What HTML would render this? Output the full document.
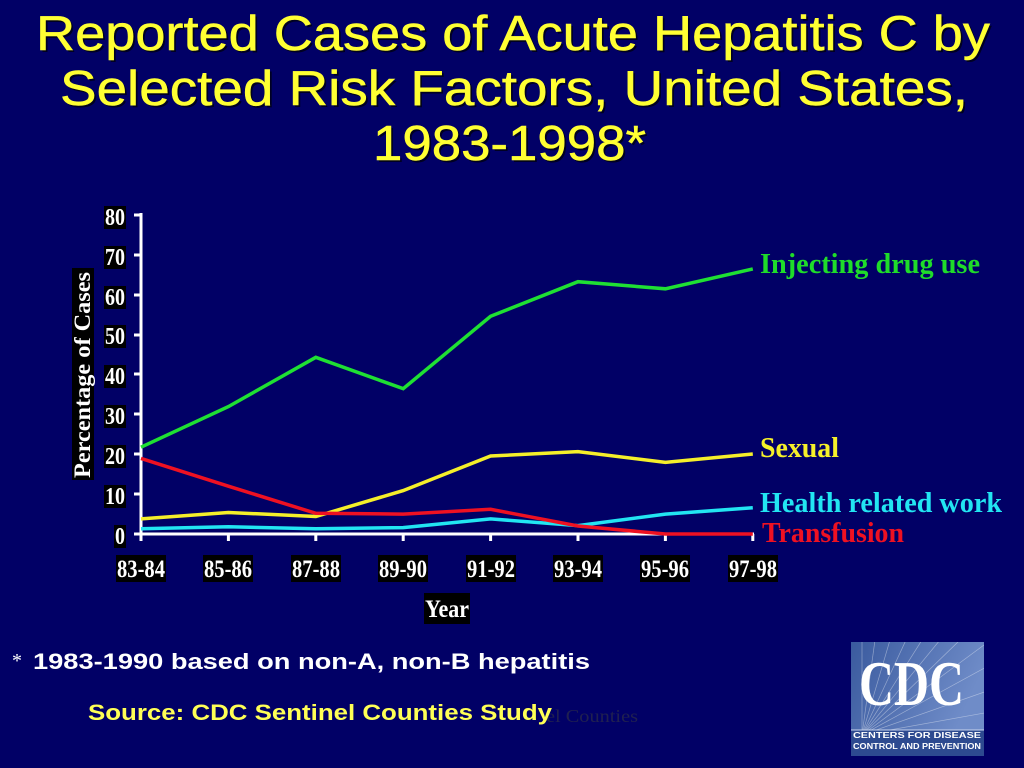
<!DOCTYPE html>
<html>
<head>
<meta charset="utf-8">
<style>
html,body{margin:0;padding:0;background:#010066;}
svg{display:block;}
</style>
</head>
<body>
<svg width="1024" height="768" viewBox="0 0 1024 768" xmlns="http://www.w3.org/2000/svg">
<defs>
<linearGradient id="cdcg" x1="0" y1="0" x2="1" y2="0.3">
<stop offset="0" stop-color="#3a5a9e"/>
<stop offset="1" stop-color="#6f8cc8"/>
</linearGradient>
<clipPath id="cdcclip"><rect x="851" y="642" width="133" height="88"/></clipPath>
</defs>
<rect x="0" y="0" width="1024" height="768" fill="#010066"/>

<!-- Title -->
<g font-family="Liberation Sans, sans-serif" font-size="49" fill="#000022">
<text x="38" y="52" textLength="954" lengthAdjust="spacingAndGlyphs">Reported Cases of Acute Hepatitis C by</text>
<text x="62" y="107" textLength="908" lengthAdjust="spacingAndGlyphs">Selected Risk Factors, United States,</text>
<text x="375" y="162" textLength="273" lengthAdjust="spacingAndGlyphs">1983-1998*</text>
</g>
<g font-family="Liberation Sans, sans-serif" font-size="49" fill="#ffff33" stroke="#ffff33" stroke-width="0.5">
<text x="36" y="50" textLength="954" lengthAdjust="spacingAndGlyphs">Reported Cases of Acute Hepatitis C by</text>
<text x="60" y="105" textLength="908" lengthAdjust="spacingAndGlyphs">Selected Risk Factors, United States,</text>
<text x="373" y="160" textLength="273" lengthAdjust="spacingAndGlyphs">1983-1998*</text>
</g>

<!-- Y axis label -->
<rect x="72" y="268" width="22" height="212" fill="#000"/>
<text transform="translate(90,478) rotate(-90)" font-family="Liberation Serif, serif" font-weight="bold" font-size="23" fill="#fff" textLength="206" lengthAdjust="spacingAndGlyphs">Percentage of Cases</text>

<!-- Y tick labels -->
<g font-family="Liberation Serif, serif" font-weight="bold" font-size="24" fill="#fff">
<rect x="104" y="206" width="22" height="23" fill="#000"/><text x="105" y="225" textLength="20" lengthAdjust="spacingAndGlyphs">80</text>
<rect x="104" y="246" width="22" height="23" fill="#000"/><text x="105" y="265" textLength="20" lengthAdjust="spacingAndGlyphs">70</text>
<rect x="104" y="286" width="22" height="23" fill="#000"/><text x="105" y="305" textLength="20" lengthAdjust="spacingAndGlyphs">60</text>
<rect x="104" y="325" width="22" height="23" fill="#000"/><text x="105" y="344" textLength="20" lengthAdjust="spacingAndGlyphs">50</text>
<rect x="104" y="365" width="22" height="23" fill="#000"/><text x="105" y="384" textLength="20" lengthAdjust="spacingAndGlyphs">40</text>
<rect x="104" y="405" width="22" height="23" fill="#000"/><text x="105" y="424" textLength="20" lengthAdjust="spacingAndGlyphs">30</text>
<rect x="104" y="445" width="22" height="23" fill="#000"/><text x="105" y="464" textLength="20" lengthAdjust="spacingAndGlyphs">20</text>
<rect x="104" y="485" width="22" height="23" fill="#000"/><text x="105" y="504" textLength="20" lengthAdjust="spacingAndGlyphs">10</text>
<rect x="114" y="525" width="12" height="23" fill="#000"/><text x="115" y="544" textLength="10" lengthAdjust="spacingAndGlyphs">0</text>
</g>

<!-- X tick labels -->
<g font-family="Liberation Serif, serif" font-weight="bold" font-size="25" fill="#fff">
<rect x="116" y="555" width="50" height="27" fill="#000"/><text x="117" y="577" textLength="48" lengthAdjust="spacingAndGlyphs">83-84</text>
<rect x="203" y="555" width="50" height="27" fill="#000"/><text x="204" y="577" textLength="48" lengthAdjust="spacingAndGlyphs">85-86</text>
<rect x="291" y="555" width="50" height="27" fill="#000"/><text x="292" y="577" textLength="48" lengthAdjust="spacingAndGlyphs">87-88</text>
<rect x="378" y="555" width="50" height="27" fill="#000"/><text x="379" y="577" textLength="48" lengthAdjust="spacingAndGlyphs">89-90</text>
<rect x="466" y="555" width="50" height="27" fill="#000"/><text x="467" y="577" textLength="48" lengthAdjust="spacingAndGlyphs">91-92</text>
<rect x="553" y="555" width="50" height="27" fill="#000"/><text x="554" y="577" textLength="48" lengthAdjust="spacingAndGlyphs">93-94</text>
<rect x="640" y="555" width="50" height="27" fill="#000"/><text x="641" y="577" textLength="48" lengthAdjust="spacingAndGlyphs">95-96</text>
<rect x="728" y="555" width="50" height="27" fill="#000"/><text x="729" y="577" textLength="48" lengthAdjust="spacingAndGlyphs">97-98</text>
<rect x="424" y="593" width="46" height="31" fill="#000"/><text x="425" y="617" textLength="44" lengthAdjust="spacingAndGlyphs">Year</text>
</g>

<!-- Axes -->
<g stroke="#fff" stroke-width="3" fill="none">
<line x1="141" y1="213" x2="141" y2="541"/>
<line x1="139.5" y1="534" x2="754" y2="534"/>
<line x1="134" y1="215" x2="141" y2="215"/>
<line x1="134" y1="255" x2="141" y2="255"/>
<line x1="134" y1="295" x2="141" y2="295"/>
<line x1="134" y1="335" x2="141" y2="335"/>
<line x1="134" y1="374" x2="141" y2="374"/>
<line x1="134" y1="414" x2="141" y2="414"/>
<line x1="134" y1="454" x2="141" y2="454"/>
<line x1="134" y1="494" x2="141" y2="494"/>
<line x1="134" y1="534" x2="141" y2="534"/>
<line x1="228.4" y1="534" x2="228.4" y2="541"/>
<line x1="315.8" y1="534" x2="315.8" y2="541"/>
<line x1="403.2" y1="534" x2="403.2" y2="541"/>
<line x1="490.6" y1="534" x2="490.6" y2="541"/>
<line x1="578" y1="534" x2="578" y2="541"/>
<line x1="665.4" y1="534" x2="665.4" y2="541"/>
<line x1="752.8" y1="534" x2="752.8" y2="541"/>
</g>

<!-- Series -->
<g fill="none" stroke-width="3.5" stroke-linejoin="miter">
<polyline stroke="#22e5f2" points="141,528.8 228.4,526.8 315.8,528.8 403.2,527.6 490.6,518.9 578,525.6 665.4,514.1 752.8,507.7"/>
<polyline stroke="#f5ef2a" points="141,518.9 228.4,512.5 315.8,516.5 403.2,490.6 490.6,456 578,451.6 665.4,462.4 752.8,454"/>
<polyline stroke="#1fe033" points="141,447.2 228.4,406.6 315.8,357.3 403.2,388.7 490.6,316.3 578,281.7 665.4,288.8 752.8,268.9"/>
<polyline stroke="#ee1122" points="141,458.4 228.4,486.2 315.8,513.3 403.2,514.1 490.6,509.3 578,526 665.4,534 752.8,534"/>
</g>

<!-- Legend labels -->
<g font-family="Liberation Serif, serif" font-weight="bold" font-size="28">
<text x="760" y="273" fill="#1fdc2a" textLength="220" lengthAdjust="spacingAndGlyphs">Injecting drug use</text>
<text x="760" y="457" fill="#f5f02a" textLength="79" lengthAdjust="spacingAndGlyphs">Sexual</text>
<text x="760" y="512" fill="#22e5f2" textLength="242" lengthAdjust="spacingAndGlyphs">Health related work</text>
<text x="762" y="542" fill="#ee1122" textLength="142" lengthAdjust="spacingAndGlyphs">Transfusion</text>
</g>

<!-- Footnote -->
<text x="12" y="667" font-family="Liberation Serif, serif" font-size="20" fill="#fff">*</text>
<text x="33" y="669" font-family="Liberation Sans, sans-serif" font-weight="bold" font-size="22" fill="#fff" textLength="557" lengthAdjust="spacingAndGlyphs">1983-1990 based on non-A, non-B hepatitis</text>

<text x="546" y="722" font-family="Liberation Serif, serif" font-size="18" fill="#202050" textLength="92" lengthAdjust="spacingAndGlyphs">el Counties</text>
<text x="88" y="720" font-family="Liberation Sans, sans-serif" font-weight="bold" font-size="22" fill="#ffff55" textLength="464" lengthAdjust="spacingAndGlyphs">Source: CDC Sentinel Counties Study</text>

<!-- CDC logo -->
<rect x="851" y="642" width="133" height="114" fill="#2d4a90"/>
<rect x="851" y="642" width="133" height="88" fill="url(#cdcg)"/>
<g clip-path="url(#cdcclip)" stroke="#ffffff" stroke-opacity="0.4" stroke-width="0.7">
<line x1="862" y1="735" x2="862" y2="640"/>
<line x1="862" y1="735" x2="875" y2="640"/>
<line x1="862" y1="735" x2="890" y2="640"/>
<line x1="862" y1="735" x2="906" y2="640"/>
<line x1="862" y1="735" x2="922" y2="640"/>
<line x1="862" y1="735" x2="940" y2="640"/>
<line x1="862" y1="735" x2="960" y2="640"/>
<line x1="862" y1="735" x2="984" y2="645"/>
<line x1="862" y1="735" x2="990" y2="665"/>
<line x1="862" y1="735" x2="990" y2="690"/>
<line x1="862" y1="735" x2="990" y2="712"/>
</g>
<text x="859" y="705" font-family="Liberation Serif, serif" font-weight="bold" font-size="64" fill="#fff" textLength="105" lengthAdjust="spacingAndGlyphs">CDC</text>
<line x1="851" y1="730" x2="984" y2="730" stroke="#c8d4ee" stroke-width="1"/>
<g font-family="Liberation Sans, sans-serif" font-weight="bold" font-size="8" fill="#fff">
<text x="853" y="738" textLength="128" lengthAdjust="spacingAndGlyphs">CENTERS FOR DISEASE</text>
<text x="853" y="749" textLength="128" lengthAdjust="spacingAndGlyphs">CONTROL AND PREVENTION</text>
</g>
</svg>
</body>
</html>
